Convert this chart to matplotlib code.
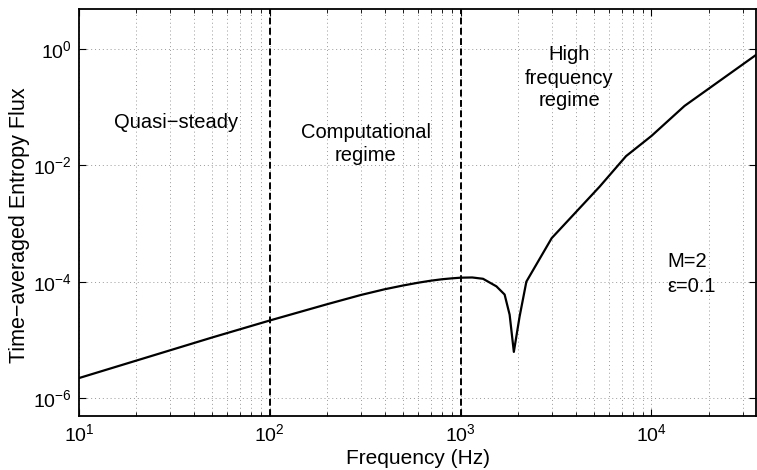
import math
import matplotlib
matplotlib.use("Agg")
import matplotlib.pyplot as plt
from matplotlib.ticker import LogLocator, FixedLocator, NullLocator, FuncFormatter

plt.rcParams['font.family'] = ['Liberation Sans', 'DejaVu Sans']
plt.rcParams['mathtext.fontset'] = 'custom'
plt.rcParams['mathtext.rm'] = 'Liberation Sans'
plt.rcParams['mathtext.it'] = 'Liberation Sans:italic'

freq = [10, 20, 50, 100, 200, 300, 400, 500, 600, 700, 800, 900, 1000, 1150, 1310,
        1540, 1700, 1806, 1900, 2036, 2210, 3000, 5350, 7360, 10000, 14900, 35300]
flux = [2.2e-6, 4.4e-6, 1.1e-5, 2.15e-5, 4.1e-5, 5.9e-5, 7.4e-5, 8.6e-5, 9.6e-5, 1.04e-4,
        1.1e-4, 1.14e-4, 1.17e-4, 1.18e-4, 1.12e-4, 8.3e-5, 6e-5, 2.7e-5, 6.2e-6, 2.5e-5,
        1e-4, 5.6e-4, 4.3e-3, 1.44e-2, 3.2e-2, 0.105, 0.79]
boundaries = [100, 1000]
xticks = [1e1, 1e2, 1e3, 1e4]
yticks = [1e-6, 1e-4, 1e-2, 1e0]

W, H = 757, 470
fig = plt.figure(figsize=(W / 100, H / 100), dpi=100)
ax = fig.add_axes([79 / W, 1 - 416 / H, (756 - 79) / W, (416 - 9) / H])
ax.set_xscale('log')
ax.set_yscale('log')
ax.plot(freq, flux, color='black', lw=1.6)
for b in boundaries:
    ax.axvline(b, color='black', ls=(0, (3.5, 1.8)), lw=1.4)

ax.set_xlim(10, 35300)
ax.set_ylim(4.9e-7, 4.87)
ax.xaxis.set_major_locator(FixedLocator(xticks))
ax.xaxis.set_minor_locator(LogLocator(base=10, subs=range(2, 10)))
ax.yaxis.set_major_locator(FixedLocator(yticks))
ax.yaxis.set_minor_locator(NullLocator())


def fmt(v, pos):
    e = int(round(math.log10(v)))
    return r'$\mathregular{10^{%s}}$' % (str(e) if e >= 0 else '\u2212%d' % (-e))


ax.xaxis.set_major_formatter(FuncFormatter(fmt))
ax.yaxis.set_major_formatter(FuncFormatter(fmt))
ax.xaxis.set_minor_formatter(FuncFormatter(lambda v, p: ''))

ax.tick_params(which='both', direction='in', top=True, right=True, labelsize=14)
ax.tick_params(which='major', length=5, pad=5)
ax.tick_params(which='minor', length=3)
ax.grid(True, which='major', axis='both', ls=(0, (1, 3)), color='#999999', lw=0.7)
ax.grid(True, which='minor', axis='x', ls=(0, (1, 3)), color='#999999', lw=0.7)
for s in ax.spines.values():
    s.set_linewidth(1.3)

ax.set_xlabel('Frequency (Hz)', fontsize=15, labelpad=3)
ax.set_ylabel('Time\u2212averaged Entropy Flux', fontsize=15.5)
ax.yaxis.set_label_coords((30 - 79) / 677, 0.468)


def label(x, y_top, txt, ha='center'):
    ax.text(x, H - y_top, txt, transform=None, fontsize=14.5, ha=ha, va='baseline')


label(176, 128, 'Quasi\u2212steady')
label(366, 138, 'Computational')
label(366, 161, 'regime')
label(569, 60, 'High')
label(569, 84, 'frequency')
label(569, 106, 'regime')
label(667, 267, 'M=2', ha='left')
label(667, 292, '\u03b5=0.1', ha='left')

fig.savefig('out.png', dpi=100)
